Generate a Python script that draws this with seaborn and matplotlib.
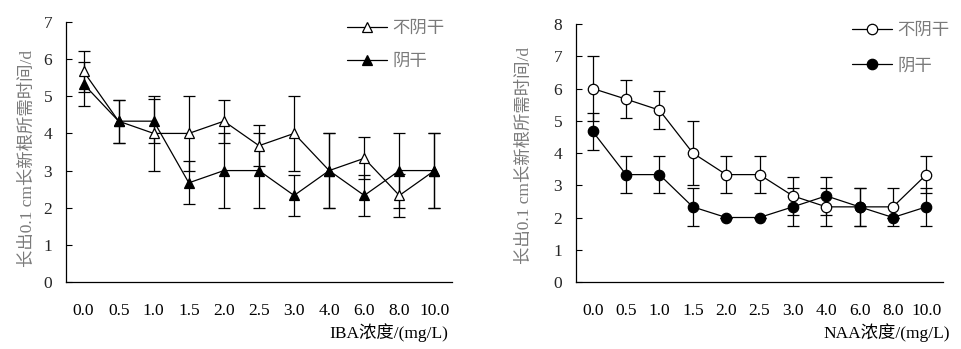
import numpy as np
import pandas as pd
import matplotlib
matplotlib.use("Agg")
import matplotlib.pyplot as plt
from matplotlib.lines import Line2D
import seaborn as sns

sns.set_theme(style="white")
plt.rcParams["font.family"] = ["Liberation Serif", "Noto Sans CJK SC", "DejaVu Sans"]

# concentrations (mg/L), shared by both panels
concentrations = ["0.0", "0.5", "1.0", "1.5", "2.0", "2.5", "3.0", "4.0", "6.0", "8.0", "10.0"]

# IBA: days needed to grow 0.1 cm of new root
iba_fresh = [5.67, 4.33, 4.00, 4.00, 4.33, 3.67, 4.00, 3.00, 3.33, 2.33, 3.00]
iba_fresh_err = [0.56, 0.58, 1.00, 1.00, 0.58, 0.55, 1.00, 1.00, 0.57, 0.57, 1.00]
iba_dried = [5.33, 4.33, 4.33, 2.67, 3.00, 3.00, 2.33, 3.00, 2.33, 3.00, 3.00]
iba_dried_err = [0.58, 0.58, 0.60, 0.58, 1.00, 1.00, 0.56, 1.00, 0.56, 1.00, 1.00]

# NAA: days needed to grow 0.1 cm of new root
naa_fresh = [6.00, 5.67, 5.33, 4.00, 3.33, 3.33, 2.67, 2.33, 2.33, 2.33, 3.33]
naa_fresh_err = [1.00, 0.58, 0.58, 1.00, 0.58, 0.58, 0.58, 0.58, 0.58, 0.58, 0.58]
naa_dried = [4.67, 3.33, 3.33, 2.33, 2.00, 2.00, 2.33, 2.67, 2.33, 2.00, 2.33]
naa_dried_err = [0.58, 0.58, 0.58, 0.58, 0.00, 0.00, 0.58, 0.58, 0.58, 0.00, 0.58]

labels = ["不阴干", "阴干"]
ylabel = "长出0.1 cm长新根所需时间/d"
GRAY = "#7a7a7a"
FS = 12.5

W, H = 961, 349
fig = plt.figure(figsize=(W / 100, H / 100), dpi=100)


def draw_panel(rect, fresh, fresh_err, dried, dried_err, marker, ymax, xlabel,
               xlabel_right, ylabel_x, ylabel_y, leg_xy, leg_spacing):
    ax = fig.add_axes([rect[0] / W, 1 - rect[3] / H, (rect[2] - rect[0]) / W,
                       (rect[3] - rect[1]) / H])
    series = [(fresh, fresh_err, "white"), (dried, dried_err, "black")]
    for (vals, errs, face), lab in zip(series, labels):
        df = pd.DataFrame({"浓度": concentrations, "时间": vals})
        ax.errorbar(concentrations, vals, yerr=errs, fmt="none", ecolor="black",
                    elinewidth=0.9, capsize=4.5, capthick=0.9, zorder=2)
        sns.lineplot(data=df, x="浓度", y="时间", ax=ax, sort=False, color="black",
                     linewidth=0.9, marker=marker, markersize=7.5,
                     markerfacecolor=face, markeredgecolor="black",
                     markeredgewidth=0.9, zorder=3)
    n = len(concentrations)
    ax.set_xlim(-0.5, n - 0.5)
    ax.set_ylim(0, ymax)
    ax.set_yticks(range(ymax + 1))
    ax.set_xticks(range(n))
    ax.set_xticklabels(concentrations)
    ax.set_xticks(np.arange(0.5, n - 0.5, 1.0), minor=True)
    ax.tick_params(axis="x", which="major", length=0, pad=15, labelsize=FS,
                   colors="black")
    ax.tick_params(axis="x", which="minor", direction="in", length=4.5, width=0.8,
                   color="black")
    ax.tick_params(axis="y", which="major", direction="in", length=4.5, width=0.8,
                   pad=10, labelsize=FS, color="black", left=True)
    for s in ["top", "right"]:
        ax.spines[s].set_visible(False)
    for s in ["left", "bottom"]:
        ax.spines[s].set_color("black")
        ax.spines[s].set_linewidth(0.9)
    ax.set_xlabel("")
    ax.set_ylabel("")
    ax.grid(False)
    fig.text(xlabel_right / W, 1 - 333 / H, xlabel, ha="right", va="center",
             fontsize=FS, color="black")
    fig.text(ylabel_x / W, 1 - ylabel_y / H, ylabel, rotation=90, ha="center",
             va="center", fontsize=FS, color=GRAY)
    handles = [
        Line2D([], [], color="black", linewidth=0.9, marker=marker, markersize=7.5,
               markerfacecolor="white", markeredgecolor="black", markeredgewidth=0.9),
        Line2D([], [], color="black", linewidth=0.9, marker=marker, markersize=7.5,
               markerfacecolor="black", markeredgecolor="black", markeredgewidth=0.9),
    ]
    leg = fig.legend(handles, labels, loc="upper left",
                     bbox_to_anchor=(leg_xy[0] / W, 1 - leg_xy[1] / H),
                     frameon=False, numpoints=1, handlelength=2.3,
                     handletextpad=0.3, labelspacing=leg_spacing, borderpad=0,
                     borderaxespad=0, fontsize=FS)
    for t in leg.get_texts():
        t.set_color(GRAY)
    return ax


draw_panel((66, 22, 452, 282), iba_fresh, iba_fresh_err, iba_dried, iba_dried_err,
           "^", 7, "IBA浓度/(mg/L)", 448, 28, 158, (347, 21), 0.95)
draw_panel((576, 24, 943, 282), naa_fresh, naa_fresh_err, naa_dried, naa_dried_err,
           "o", 8, "NAA浓度/(mg/L)", 950, 525, 155, (852, 23), 1.1)

fig.savefig("out.png", dpi=100)
